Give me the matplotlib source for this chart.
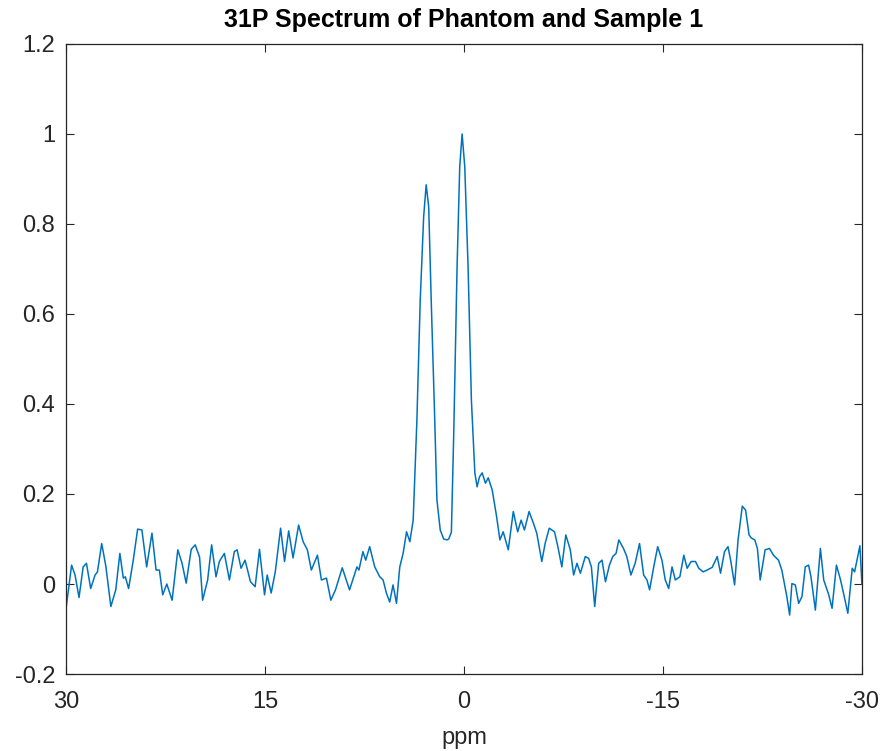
import matplotlib
matplotlib.use("Agg")
import matplotlib.pyplot as plt
from matplotlib.ticker import FuncFormatter

# chemical shift (ppm) and normalised intensity
ppm = [30.0, 29.60, 29.34, 29.04, 28.73, 28.48, 28.16, 27.83, 27.65, 27.33,
       27.02, 26.64, 26.27, 25.96, 25.70, 25.55, 25.30, 24.95, 24.62, 24.30,
       23.94, 23.54, 23.23, 22.98, 22.73, 22.42, 22.02, 21.59, 21.27, 20.96,
       20.58, 20.28, 19.95, 19.72, 19.34, 19.04, 18.71, 18.46, 18.08, 17.70,
       17.33, 17.12, 16.82, 16.52, 16.11, 15.76, 15.43, 15.05, 14.85, 14.55,
       14.24, 13.84, 13.54, 13.23, 12.90, 12.48, 12.14, 11.82, 11.52, 11.06,
       10.76, 10.38, 10.05, 9.70, 9.19, 8.64, 8.08, 7.93, 7.63, 7.42,
       7.12, 6.74, 6.36, 6.11, 5.86, 5.61, 5.36, 5.10, 4.85, 4.60,
       4.34, 4.09, 3.84, 3.56, 3.31, 3.05, 2.86, 2.67, 2.48, 2.22,
       2.05, 1.80, 1.54, 1.29, 1.16, 0.96, 0.78, 0.53, 0.33, 0.15,
       -0.05, -0.30, -0.55, -0.81, -0.98, -1.16, -1.36, -1.61, -1.82, -2.12,
       -2.45, -2.70, -2.95, -3.33, -3.71, -4.04, -4.30, -4.55, -4.90, -5.23,
       -5.48, -5.86, -6.11, -6.42, -6.82, -7.07, -7.37, -7.67, -8.01, -8.26,
       -8.51, -8.77, -9.14, -9.39, -9.60, -9.85, -10.15, -10.40, -10.66, -10.96,
       -11.21, -11.46, -11.67, -12.02, -12.27, -12.58, -12.90, -13.23, -13.54, -13.79,
       -13.99, -14.30, -14.60, -14.92, -15.17, -15.43, -15.68, -15.93, -16.27, -16.57,
       -16.82, -17.12, -17.45, -17.70, -18.03, -18.33, -18.71, -19.09, -19.34, -19.64,
       -19.90, -20.10, -20.40, -20.66, -20.98, -21.23, -21.49, -21.67, -21.92, -22.12,
       -22.33, -22.70, -23.03, -23.33, -23.71, -23.96, -24.34, -24.55, -24.72, -24.98,
       -25.23, -25.48, -25.73, -25.98, -26.16, -26.49, -26.87, -27.12, -27.50, -27.75,
       -28.08, -28.39, -28.64, -28.94, -29.27, -29.45, -29.85, -30.0]
intensity = [-0.05, 0.042, 0.02, -0.03, 0.038, 0.046, -0.01, 0.02, 0.027, 0.09,
             0.04, -0.05, -0.013, 0.068, 0.013, 0.016, -0.01, 0.053, 0.122, 0.12,
             0.038, 0.113, 0.031, 0.031, -0.024, 0.0, -0.036, 0.076, 0.046, 0.002,
             0.077, 0.087, 0.06, -0.036, 0.009, 0.087, 0.016, 0.05, 0.068, 0.009,
             0.072, 0.076, 0.035, 0.053, 0.005, -0.006, 0.077, -0.024, 0.02, -0.02,
             0.027, 0.124, 0.05, 0.118, 0.058, 0.131, 0.094, 0.076, 0.031, 0.064,
             0.009, 0.013, -0.036, -0.013, 0.036, -0.013, 0.038, 0.031, 0.072, 0.053,
             0.083, 0.038, 0.016, 0.009, -0.02, -0.04, -0.002, -0.043, 0.038, 0.068,
             0.116, 0.094, 0.142, 0.364, 0.63, 0.816, 0.887, 0.838, 0.63, 0.371,
             0.187, 0.12, 0.1, 0.098, 0.1, 0.115, 0.336, 0.705, 0.927, 1.0,
             0.927, 0.705, 0.409, 0.247, 0.216, 0.238, 0.247, 0.224, 0.236, 0.209,
             0.15, 0.098, 0.116, 0.076, 0.161, 0.116, 0.142, 0.12, 0.161, 0.135,
             0.113, 0.05, 0.09, 0.124, 0.116, 0.083, 0.038, 0.109, 0.076, 0.02,
             0.046, 0.024, 0.061, 0.057, 0.038, -0.05, 0.046, 0.053, 0.005, 0.042,
             0.061, 0.068, 0.098, 0.079, 0.061, 0.02, 0.046, 0.09, 0.02, 0.009,
             -0.013, 0.038, 0.083, 0.053, 0.009, -0.01, 0.038, 0.009, 0.016, 0.064,
             0.035, 0.05, 0.05, 0.035, 0.027, 0.031, 0.037, 0.061, 0.024, 0.072,
             0.083, 0.053, -0.002, 0.098, 0.173, 0.164, 0.109, 0.102, 0.098, 0.079,
             0.009, 0.076, 0.079, 0.064, 0.053, 0.031, -0.028, -0.069, 0.001, -0.002,
             -0.043, -0.028, 0.038, 0.042, 0.016, -0.058, 0.079, 0.009, -0.024, -0.054,
             0.042, 0.009, -0.024, -0.065, 0.035, 0.027, 0.085, 0.0]

xticks = [30, 15, 0, -15, -30]
yticks = [-0.2, 0, 0.2, 0.4, 0.6, 0.8, 1.0, 1.2]

plt.rcParams['font.family'] = ['Liberation Sans', 'DejaVu Sans']
plt.rcParams['axes.unicode_minus'] = False
txt = '#262626'

fig = plt.figure(figsize=(8.84, 7.51), dpi=100)
ax = fig.add_axes([0.075, 0.1025, 0.9, 0.839])

ax.plot(ppm, intensity, color='#0072BD', linewidth=1.1)

ax.set_xlim(30, -30)
ax.set_ylim(-0.2, 1.2)
ax.set_xticks(xticks)
ax.set_yticks(yticks)
ax.xaxis.set_major_formatter(FuncFormatter(lambda v, p: '%g' % v))
ax.yaxis.set_major_formatter(FuncFormatter(lambda v, p: '%g' % round(v, 1)))
ax.tick_params(direction='in', length=6, width=0.8, top=True, right=True,
               labelsize=17, colors=txt)
ax.tick_params(axis='x', pad=12)
ax.tick_params(axis='y', pad=8)
for s in ax.spines.values():
    s.set_color(txt)
    s.set_linewidth(0.9)

ax.set_xlabel('ppm', fontsize=17, color=txt, labelpad=10)
ax.set_title('31P Spectrum of Phantom and Sample 1', fontsize=18,
             fontweight='bold', color='black', pad=12)

fig.savefig('out.png', dpi=100)
